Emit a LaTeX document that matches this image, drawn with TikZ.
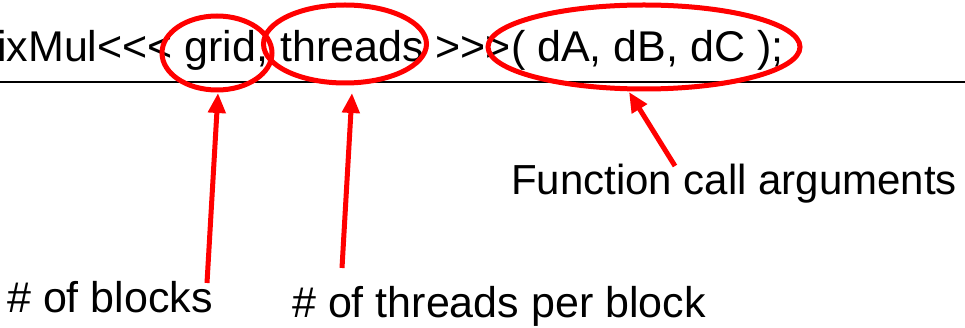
\documentclass[tikz,border=0pt]{standalone}
\usepackage{fontspec}
\setmainfont{Liberation Sans}[Ligatures=TeXOff]
\usetikzlibrary{arrows.meta,shapes.geometric}
\begin{document}
\begin{tikzpicture}[x=1pt,y=-1pt,
  lbl/.style={anchor=base west,inner sep=0pt,font=\fontsize{43}{50}\selectfont},
  ring/.style={draw=red,line width=5pt,ellipse,inner sep=0pt},
  pointer/.style={draw=red,line width=5pt,-{Triangle[length=20pt,width=17pt]}}]
\useasboundingbox (0,0) rectangle (965,328);
\begin{scope}
\clip (0,0) rectangle (965,328);
\node[lbl] (code) at (-3,62) {ixMul<<< grid, threads >>>( dA, dB, dC );};
\end{scope}
\draw[line width=1.3pt] (0,82) -- (965,82);
\node[ring,minimum width=110pt,minimum height=74pt] (eg) at (217,53) {};
\node[ring,minimum width=163pt,minimum height=78pt] (et) at (345,44) {};
\node[ring,minimum width=312pt,minimum height=84pt] (ea) at (644,47) {};
\node[lbl] (lblocks) at (7,312) {\# of blocks};
\node[lbl] (lthreads) at (292,317) {\# of threads per block};
\node[lbl,font=\fontsize{42}{50}\selectfont] (largs) at (511,195) {Function call arguments};
\coordinate (tg) at (207,283);
\coordinate (hg) at (218,93);
\coordinate (tt) at (342,268);
\coordinate (ht) at (352,93);
\coordinate (ta) at (675,166);
\coordinate (ha) at (629,92);
\draw[pointer] (tg) -- (hg);
\draw[pointer] (tt) -- (ht);
\draw[pointer] (ta) -- (ha);
\end{tikzpicture}
\end{document}
